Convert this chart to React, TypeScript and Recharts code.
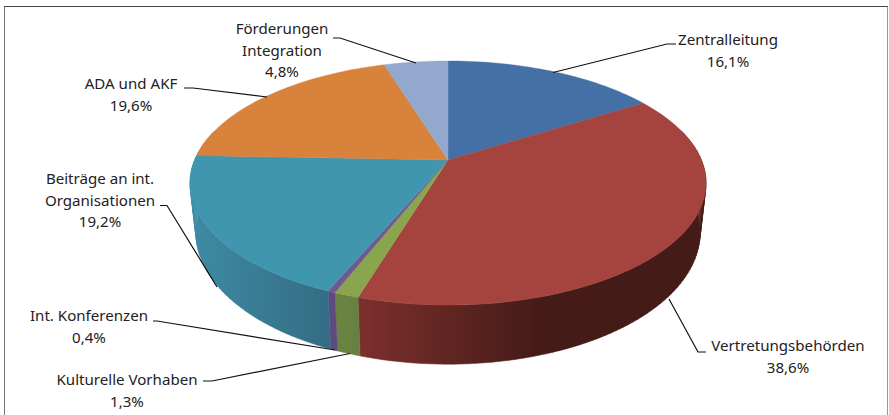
import React from "react";
import { PieChart, Pie } from "recharts";

const NAMES = [
  "Zentralleitung",
  "Vertretungsbehörden",
  "Kulturelle Vorhaben",
  "Int. Konferenzen",
  "Beiträge an int.\nOrganisationen",
  "ADA und AKF",
  "Förderungen\nIntegration",
];
const VALUES = [16.1, 38.6, 1.3, 0.4, 19.2, 19.6, 4.8];
const TOP_COLORS = ["#4470a5", "#a5433f", "#89a54e", "#71588f", "#4196af", "#d9823c", "#92a8cd"];
const WALL_STOPS = [
  ["#3a6088", "#3a6088"],
  ["#7c302c", "#451b17"],
  ["#6b8440", "#668040"],
  ["#5f4a80", "#5f4a80"],
  ["#3e8ba5", "#346c82"],
  ["#b06a30", "#b06a30"],
  ["#7a8cab", "#7a8cab"],
];

// Label centre x, first-line centre y, leader-line points
const LABEL_LAYOUT = [
  { x: 728, y: 40, leader: [[553, 72.5], [667, 44], [676, 44]] },
  { x: 788, y: 346, leader: [[669, 299], [698, 352], [706, 352]] },
  { x: 127, y: 380, leader: [[350, 353.5], [212, 381], [203, 381]] },
  { x: 89, y: 316, leader: [[335, 350], [157, 321], [153, 321]] },
  { x: 100, y: 179, leader: [[160, 205.5], [167, 205.5], [217, 287]] },
  { x: 131, y: 84, leader: [[184, 88], [193, 88], [267, 97]] },
  { x: 282, y: 29, leader: [[333, 38], [340, 38], [416, 63]] },
];

const rows = NAMES.map((name, i) => ({ name, value: VALUES[i] }));

// Perspective tilt of the disc
const K = 0.1885;
const SCALE_X = 2.534;
const SCALE_Y = 1.177;
const WALL_HEIGHT = 48;
const WALL_SHRINK = 0.977;

const rad = (d: number) => (d * Math.PI) / 180;

function rim(p: any, deg: number, bottom = false): [number, number] {
  const u = Math.cos(rad(deg));
  const v = -Math.sin(rad(deg));
  const w = 1 - K * v;
  const r = p.outerRadius;
  const x = (SCALE_X * r * u) / w;
  const y = (SCALE_Y * r * v) / w;
  return bottom
    ? [p.cx + x * WALL_SHRINK, p.cy + y + WALL_HEIGHT / w]
    : [p.cx + x, p.cy + y];
}

function arcPoints(p: any, a0: number, a1: number, bottom = false) {
  const n = Math.max(2, Math.ceil(Math.abs(a1 - a0) / 1.5));
  const pts: [number, number][] = [];
  for (let i = 0; i <= n; i++) pts.push(rim(p, a0 + ((a1 - a0) * i) / n, bottom));
  return pts;
}

const toPath = (pts: [number, number][]) =>
  pts.map((q, i) => `${i ? "L" : "M"}${q[0].toFixed(2)},${q[1].toFixed(2)}`).join("");

function TopFace(p: any) {
  const i = NAMES.indexOf(p.name);
  const pts = arcPoints(p, p.startAngle, p.endAngle);
  return <path d={`${toPath(pts)}L${p.cx},${p.cy}Z`} fill={TOP_COLORS[i]} stroke={TOP_COLORS[i]} strokeWidth={0.4} />;
}

function Wall(p: any) {
  const i = NAMES.indexOf(p.name);
  // only the part of the rim that faces the viewer
  const lo = Math.max(Math.min(p.startAngle, p.endAngle), -195);
  const hi = Math.min(Math.max(p.startAngle, p.endAngle), 15);
  if (hi <= lo) return <g />;
  const top = arcPoints(p, lo, hi);
  const bot = arcPoints(p, lo, hi, true);
  // one quad per rim step, so the swept silhouette at the disc's sides is filled
  let d = "";
  for (let k = 0; k < top.length - 1; k++) {
    d += `${toPath([top[k], top[k + 1], bot[k + 1], bot[k]])}Z`;
  }
  const id = `wall-${i}`;
  const xs = top.concat(bot).map((q) => q[0]);
  return (
    <g>
      <defs>
        <linearGradient id={id} gradientUnits="userSpaceOnUse" x1={Math.min(...xs)} x2={i === 1 ? 540 : Math.max(...xs)} y1={0} y2={0}>
          <stop offset="0%" stopColor={WALL_STOPS[i][0]} />
          <stop offset="100%" stopColor={WALL_STOPS[i][1]} />
        </linearGradient>
      </defs>
      <path d={d} fill={`url(#${id})`} stroke={`url(#${id})`} strokeWidth={0.5} />
    </g>
  );
}

const LABEL_FONT = '"Noto Sans", "Open Sans", sans-serif';

function renderLabel(p: any) {
  const i = NAMES.indexOf(p.name);
  const l = LABEL_LAYOUT[i];
  const lines = [...String(p.name).split("\n"), Number(p.value).toFixed(1).replace(".", ",") + "%"];
  return (
    <g>
      <path d={toPath(l.leader as [number, number][])} fill="none" stroke="#111" strokeWidth={1.2} />
      {lines.map((t, k) => (
        <text key={k} x={l.x} y={l.y + k * 21.7 + 5} textAnchor="middle" fontFamily={LABEL_FONT} fontSize={15.1} fill="#222">
          {t}
        </text>
      ))}
    </g>
  );
}

export default function App() {
  return (
    <div style={{ position: "absolute", left: 0, top: 0, width: 889, height: 415, overflow: "hidden", background: "#fff" }}>
      <div style={{ position: "absolute", left: 4, top: 6, width: 884, height: 430, borderTop: "1.5px solid #444", borderLeft: "1.5px solid #777", borderRight: "1px solid #999", boxSizing: "border-box" }} />
      <div style={{ position: "absolute", left: 0, top: 0 }}>
        <PieChart width={889} height={415} margin={{ top: 0, right: 0, bottom: 0, left: 0 }}>
          <Pie
            data={rows}
            dataKey="value"
            nameKey="name"
            cx={448}
            cy={160}
            innerRadius={0}
            outerRadius={100}
            startAngle={90}
            endAngle={-270}
            stroke="none"
            labelLine={false}
            label={false}
            shape={Wall}
            isAnimationActive={false}
          />
          <Pie
            data={rows}
            dataKey="value"
            nameKey="name"
            cx={448}
            cy={160}
            innerRadius={0}
            outerRadius={100}
            startAngle={90}
            endAngle={-270}
            stroke="none"
            labelLine={false}
            label={renderLabel}
            shape={TopFace}
            isAnimationActive={false}
          />
        </PieChart>
      </div>
    </div>
  );
}
